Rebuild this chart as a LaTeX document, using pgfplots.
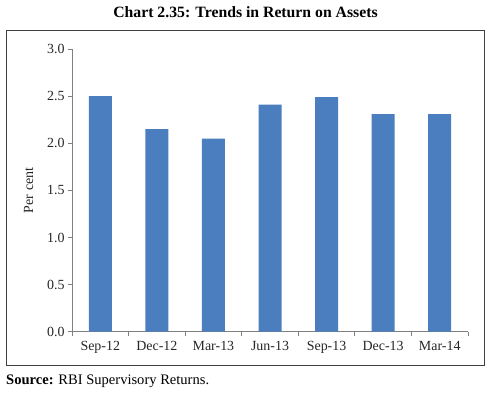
\documentclass[border=0pt]{standalone}
\usepackage{fontspec}
\setmainfont{Liberation Serif}
\usepackage{pgfplots}
\pgfplotsset{compat=1.18}
\definecolor{barblue}{HTML}{4A7EBF}
\definecolor{axgray}{HTML}{808080}
\begin{document}
\begin{tikzpicture}[x=1bp,y=1bp]
\path (0,0) rectangle (488,-392);
\draw[color=black!75, line width=0.8bp] (6,-30) rectangle (484,-365);
\node[font=\bfseries\fontsize{15.8}{18}\selectfont, anchor=center] at (245.5,-12) {Chart 2.35: Trends in Return on Assets};
\node[font=\fontsize{14.6}{16}\selectfont, anchor=west, inner sep=0pt] at (6,-381) {\textbf{Source:} RBI Supervisory Returns.};
\begin{axis}[
  at={(72bp,-331.7bp)}, anchor=south west,
  scale only axis, width=396bp, height=282.7bp,
  xmin=-0.5, xmax=6.5, ymin=0, ymax=3,
  axis x line*=bottom, axis y line*=left,
  axis line style={axgray, line width=0.8bp},
  ytick={0,0.5,...,3.0},
  yticklabel style={/pgf/number format/.cd, fixed, fixed zerofill, precision=1},
  /pgf/number format/assume math mode=true,
  xtick={0,...,6},
  xticklabels={Sep-12,Dec-12,Mar-13,Jun-13,Sep-13,Dec-13,Mar-14},
  minor xtick={-0.5,0.5,...,6.5},
  major x tick style={draw=none},
  tick align=outside, tick pos=left,
  major tick length=4bp, minor tick length=4bp,
  tick style={axgray, line width=0.8bp},
  ticklabel style={font=\fontsize{14}{16}\selectfont, text=black!85},
  xticklabel style={yshift=-2bp},
  ylabel={Per cent},
  ylabel style={font=\fontsize{14}{16}\selectfont, text=black!85, yshift=7bp},
  clip=false,
]
\addplot[ybar, bar width=23bp, fill=barblue, draw=none] coordinates {
(0,2.50) (1,2.15) (2,2.05) (3,2.41) (4,2.49) (5,2.31) (6,2.31)};
\end{axis}
\end{tikzpicture}
\end{document}
